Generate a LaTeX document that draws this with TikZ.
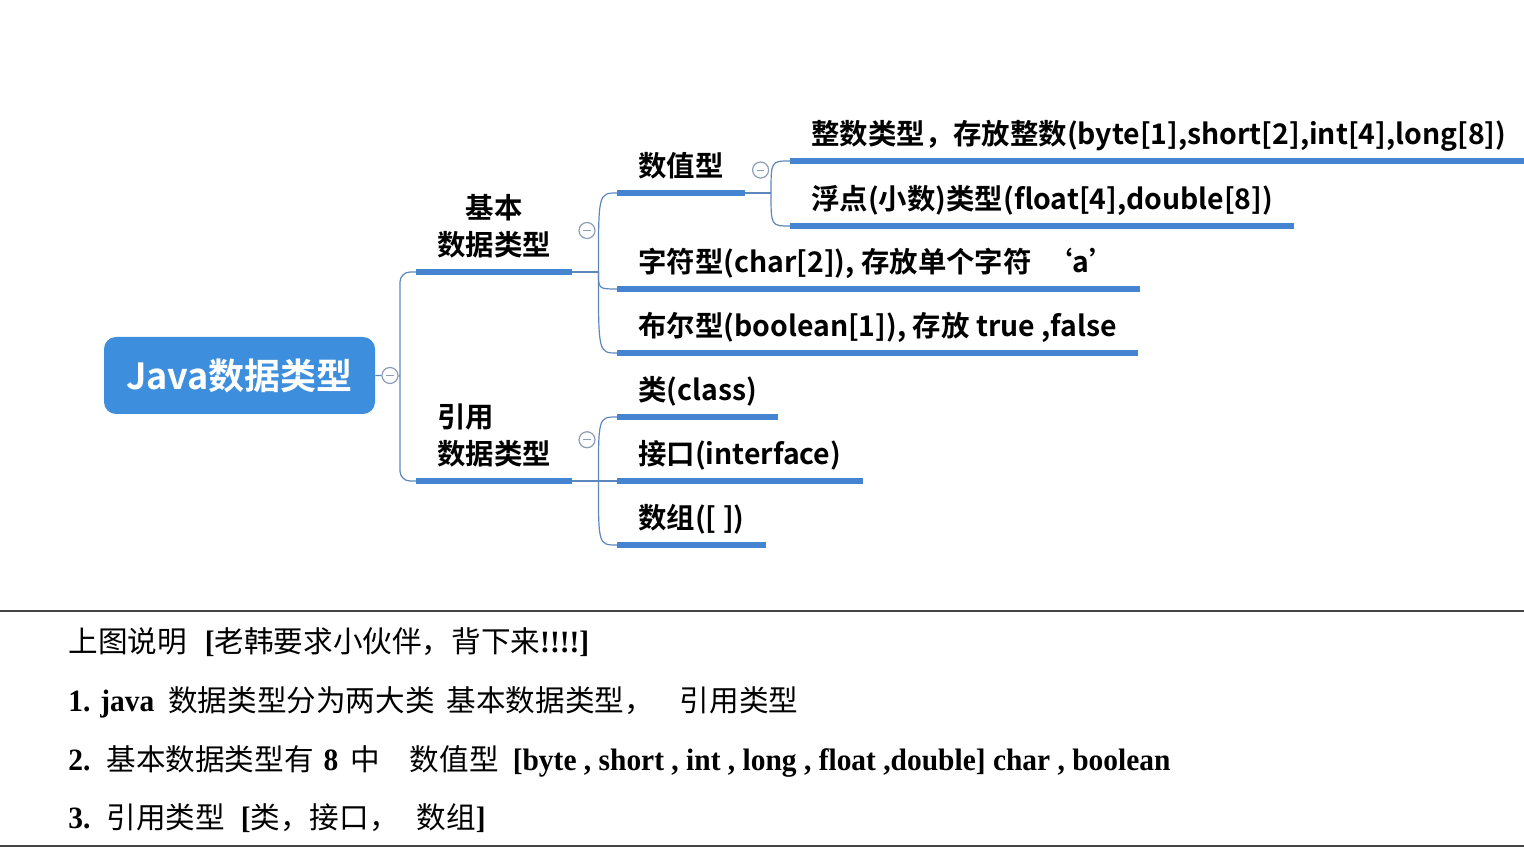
\documentclass[tikz,border=0pt]{standalone}
\usepackage{fontspec}
\setmainfont{Liberation Serif}
\newfontfamily\notefont{Liberation Serif}[FakeStretch=0.95]
\newfontfamily\cjk{Noto Sans CJK SC}
\newfontfamily\mapfont{Noto Sans CJK SC Bold}
\usetikzlibrary{positioning}
\definecolor{rootblue}{HTML}{3E8EDE}
\definecolor{bar}{HTML}{4584D0}
\definecolor{link}{HTML}{5C87BD}
\definecolor{foldc}{HTML}{8D9DB6}
\definecolor{rulec}{HTML}{454545}
\newcommand\zh[1]{{\cjk\mdseries\fontsize{14.8}{18}\selectfont #1}}

\begin{document}
\begin{tikzpicture}[x=0.5pt, y=-0.5pt,
  font=\mapfont\fontsize{14.2}{18.5}\selectfont,
  rootbox/.style={fill=rootblue, rounded corners=6pt, minimum width=135.5pt, minimum height=38.5pt, text=white, font=\mapfont\fontsize{18}{20}\selectfont},
  topic/.style={anchor=south west, inner xsep=10.5pt, inner ysep=2.5pt, text depth=5.5pt},
  uline/.style={draw=bar, line width=2.6pt},
  link/.style={draw=link, line width=0.6pt},
  fold/.style={circle, draw=foldc, line width=0.6pt, minimum size=8pt, inner sep=0pt, fill=white,
    path picture={\draw[foldc, line width=0.4pt] ([xshift=-1.8pt]path picture bounding box.center) -- ([xshift=1.8pt]path picture bounding box.center);}},
  note/.style={anchor=base west, inner sep=0pt, font=\notefont\bfseries\fontsize{15.5}{18}\selectfont},
  rule/.style={draw=rulec, line width=1pt}
]
\useasboundingbox (0,0) rectangle (1524,854);

% mind map
\node[rootbox] (root) at (239.5,375.5) {Java数据类型};
\node[fold, right=3pt of root] (f0) {};

\node[topic, align=center] (basic) at (416,272) {基本\\数据类型};
\node[topic, align=left] (refer) at (416,481) {引用\\数据类型};
\node[fold, right=3pt of basic] (f1) {};
\node[fold, right=3pt of refer] (f3) {};

\node[topic] (num) at (617,193) {数值型};
\node[fold, right=3.5pt of num] (f2) {};
\node[topic] (int) at (790,161) {整数类型，存放整数(byte[1],short[2],int[4],long[8])};
\node[topic] (flt) at (790,226) {浮点(小数)类型(float[4],double[8])};
\node[topic] (chr) at (617,289) {字符型(char[2]), 存放单个字符\ \ ‘a’};
\node[topic] (bool) at (617,353) {布尔型(boolean[1]), 存放 true ,false};

\node[topic] (cls) at (617,417) {类(class)};
\node[topic] (ifc) at (617,481) {接口(interface)};
\node[topic] (arr) at (617,545) {数组([ ])};

\foreach \t in {basic, refer, num, int, flt, chr, bool, cls, ifc, arr}
  \draw[uline] (\t.south west) -- (\t.south east);

% connectors
\coordinate (jr) at (400,376);
\draw[link] (root) -- (f0) -- (jr);
\draw[link, rounded corners=5pt] (basic.south west) -| (jr) |- (refer.south west);

\coordinate (jb) at ([xshift=13pt]basic.south east);
\draw[link] (basic.south east) -- (jb);
\foreach \t in {num, chr, bool}
  \draw[link] (jb) .. controls (jb |- \t.south west) .. (\t.south west);

\coordinate (jn) at ([xshift=13pt]num.south east);
\draw[link] (num.south east) -- (jn);
\foreach \t in {int, flt}
  \draw[link] (jn) .. controls (jn |- \t.south west) .. (\t.south west);

\coordinate (jf) at ([xshift=13pt]refer.south east);
\draw[link] (refer.south east) -- (jf);
\foreach \t in {cls, ifc, arr}
  \draw[link] (jf) .. controls (jf |- \t.south west) .. (\t.south west);

% notes below
\draw[rule] (0,611) -- (1524,611);
\draw[rule] (0,846) -- (1524,846);
\node[note] (l1) at (68,652) {\zh{上图说明}\hspace{9pt}[\zh{老韩要求小伙伴，背下来}!!!!]};
\node[note] (l2) at (68,711) {1. java\hspace{7pt}\zh{数据类型分为两大类}\hspace{6pt}\zh{基本数据类型，}\hspace{13pt}\zh{引用类型}};
\node[note] (l3) at (68,770) {2.\hspace{8pt}\zh{基本数据类型有}\hspace{5pt}8\hspace{6pt}\zh{中}\hspace{15pt}\zh{数值型}\hspace{7pt}[byte , short , int , long , float ,double] char , boolean};
\node[note] (l4) at (68,828) {3.\hspace{8pt}\zh{引用类型}\hspace{8pt}[\zh{类，接口，}\hspace{9pt}\zh{数组}]};
\end{tikzpicture}
\end{document}
